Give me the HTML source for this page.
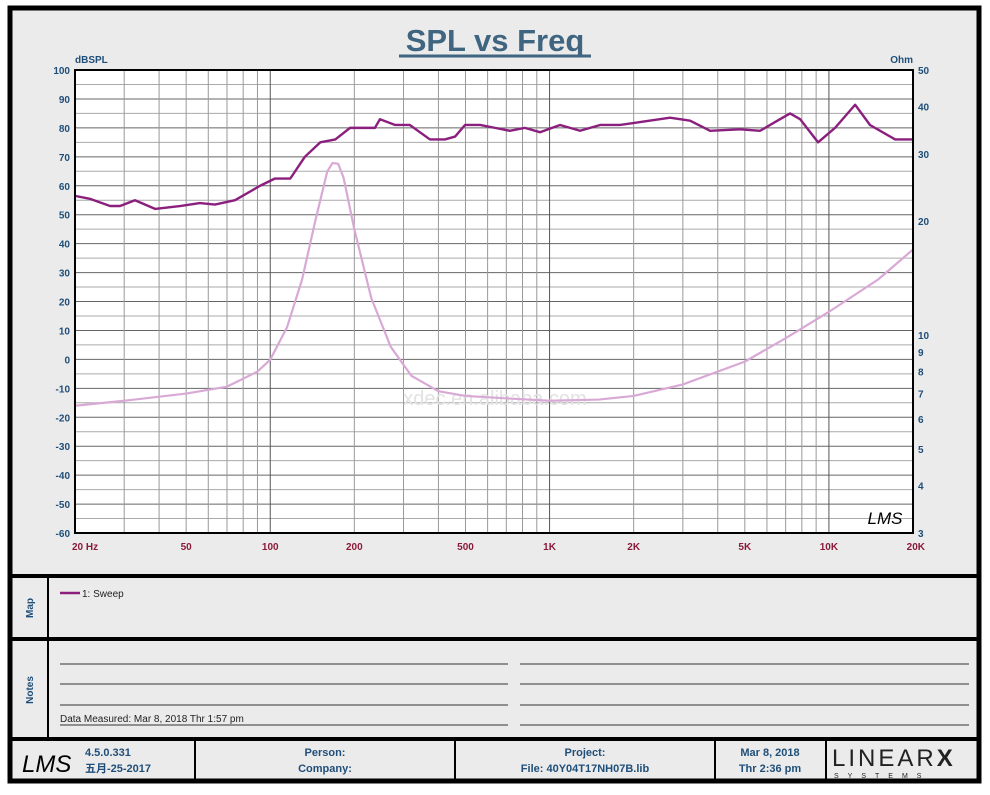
<!DOCTYPE html>
<html><head><meta charset="utf-8"><style>
body{margin:0;background:#fff;width:990px;height:790px;overflow:hidden;font-family:"Liberation Sans",sans-serif}
svg text{font-family:"Liberation Sans","Noto Sans CJK SC",sans-serif}
</style></head><body>
<svg id="s" width="990" height="790" viewBox="0 0 990 790">
<rect x="0" y="0" width="990" height="790" fill="#fff"/>
<rect x="10" y="8" width="969" height="773" fill="#ebebeb" stroke="#000" stroke-width="5"/>
<text x="495" y="51" text-anchor="middle" font-size="31" font-weight="bold" fill="#3f6580">SPL vs Freq</text>
<line x1="399" y1="56" x2="591" y2="56" stroke="#3f6580" stroke-width="3"/>
<text x="75" y="63" font-size="10" font-weight="bold" fill="#1f4e79">dBSPL</text>
<text x="913" y="63" text-anchor="end" font-size="10" font-weight="bold" fill="#1f4e79">Ohm</text>
<rect x="75" y="70" width="838" height="463" fill="#fff"/>
<g id="grid"></g>
<text x="495" y="405" text-anchor="middle" font-size="20" fill="#e2e2e2">xdec.en.alibaba.com</text>
<g id="marks"></g>
<rect x="75" y="70" width="838" height="463" fill="none" stroke="#000" stroke-width="2"/>
<text x="885" y="524" text-anchor="middle" font-size="17" font-style="italic" font-family="Liberation Serif" fill="#000">LMS</text>
<g id="axes"></g>
<line x1="10" y1="576" x2="979" y2="576" stroke="#000" stroke-width="4"/>
<line x1="10" y1="639" x2="979" y2="639" stroke="#000" stroke-width="4"/>
<line x1="10" y1="739" x2="979" y2="739" stroke="#000" stroke-width="4"/>
<line x1="48" y1="576" x2="48" y2="739" stroke="#000" stroke-width="2"/>
<text transform="translate(33,608) rotate(-90)" text-anchor="middle" font-size="10" font-weight="bold" fill="#1f4e79">Map</text>
<text transform="translate(33,690) rotate(-90)" text-anchor="middle" font-size="10" font-weight="bold" fill="#1f4e79">Notes</text>
<g><line x1="60" y1="593" x2="80" y2="593" stroke="#8b1f7e" stroke-width="2.5"/><text x="82" y="597" font-size="10" fill="#222">1: Sweep</text></g>
<g stroke="#333" stroke-width="1">
<line x1="60" y1="664" x2="508" y2="664"/><line x1="520" y1="664" x2="969" y2="664"/>
<line x1="60" y1="684" x2="508" y2="684"/><line x1="520" y1="684" x2="969" y2="684"/>
<line x1="60" y1="705" x2="508" y2="705"/><line x1="520" y1="705" x2="969" y2="705"/>
<line x1="60" y1="725" x2="508" y2="725"/><line x1="520" y1="725" x2="969" y2="725"/>
</g>
<text x="60" y="722" font-size="10" fill="#222">Data Measured: Mar  8, 2018  Thr  1:57 pm</text>
<g stroke="#000" stroke-width="2"><line x1="195" y1="739" x2="195" y2="781"/><line x1="455" y1="739" x2="455" y2="781"/><line x1="715" y1="739" x2="715" y2="781"/><line x1="826" y1="739" x2="826" y2="781"/></g>
<text x="22" y="772" font-size="24" font-style="italic" font-family="Liberation Serif">LMS</text>
<g font-size="11" font-weight="bold" fill="#1f4e79">
<text x="85" y="756">4.5.0.331</text>
<text x="85" y="772">五月-25-2017</text>
<text x="325" y="756" text-anchor="middle">Person:</text>
<text x="325" y="772" text-anchor="middle">Company:</text>
<text x="585" y="756" text-anchor="middle">Project:</text>
<text x="585" y="772" text-anchor="middle">File: 40Y04T17NH07B.lib</text>
<text x="770" y="756" text-anchor="middle">Mar  8, 2018</text>
<text x="770" y="772" text-anchor="middle">Thr  2:36 pm</text>
</g>
<text x="832" y="766" font-size="24" font-family="Liberation Serif" letter-spacing="3" fill="#222">LINEAR<tspan font-weight="bold" font-family="Liberation Sans">X</tspan></text>
<text x="834" y="778" font-size="7" letter-spacing="9" fill="#222">SYSTEMS</text>
</svg>
<script>
const splFreq=[20,22.6,26.7,29,32.8,38.7,47.5,56,63.4,74.8,92,104,118,133,151,171,193,237,247,280,316,373,422,459,498,564,638,721,816,924,1090,1286,1517,1788,2108,2700,3184,3755,4808,5674,6414,7260,7888,9148,10520,12410,14030,17260,20000];
const splDb=[56.5,55.5,53,53,55,52,53,54,53.5,55,60,62.5,62.5,70,75,76,80,80,83,81,81,76,76,77,81,81,80,79,80,78.5,81,79,81,81,82,83.5,82.5,79,79.5,79,82,85,83,75,80,88,81,76,76];
const impFreq=[20,30,50,70,90,100,115,130,145,160,167,175,183,200,230,270,320,400,500,700,1000,1500,2000,3000,5000,7000,10000,15000,20000];
const impOhm=[6.5,6.7,7.0,7.3,8.0,8.6,10.5,14,20,27,28.4,28.3,26,19,12.5,9.3,7.8,7.1,6.9,6.8,6.7,6.75,6.9,7.4,8.5,9.8,11.5,14,16.8];
const dbTicks=[100,90,80,70,60,50,40,30,20,10,0,-10,-20,-30,-40,-50,-60];
const ohmTicks=[50,40,30,20,10,9,8,7,6,5,4,3];
const freqTicks=[20,50,100,200,500,1000,2000,5000,10000,20000];
const freqLabels=["20  Hz","50","100","200","500","1K","2K","5K","10K","20K"];
const X0=75,X1=913,Y0=70,Y1=533,NS='http://www.w3.org/2000/svg';
function xs(f){return X0+(X1-X0)*Math.log10(f/20)/3;}
function yDb(d){return Y1-(Y1-Y0)*(d+60)/160;}
function yOhm(o){return Y1-(Y1-Y0)*Math.log10(o/3)/Math.log10(50/3);}
function mk(t,a,p){const e=document.createElementNS(NS,t);for(const k in a)e.setAttribute(k,a[k]);p.appendChild(e);return e;}
const grid=document.getElementById('grid'),marks=document.getElementById('marks'),axes=document.getElementById('axes');
for(let d=-60;d<=100;d+=5){mk('line',{x1:X0,x2:X1,y1:yDb(d),y2:yDb(d),stroke:d%10?'#aaa':'#666','stroke-width':1},grid);}
for(let dec=10;dec<=10000;dec*=10){for(let m=1;m<=9;m++){const f=dec*m;if(f<20||f>20000)continue;mk('line',{x1:xs(f),x2:xs(f),y1:Y0,y2:Y1,stroke:m==1?'#555':'#999','stroke-width':1},grid);}}
dbTicks.forEach(d=>{const t=mk('text',{x:70,y:yDb(d)+4,'text-anchor':'end','font-size':10,'font-weight':'bold',fill:'#1f4e79'},axes);t.textContent=d;

});
ohmTicks.forEach(o=>{const t=mk('text',{x:918,y:yOhm(o)+4,'font-size':10,'font-weight':'bold',fill:'#1f4e79'},axes);t.textContent=o;

});
freqTicks.forEach((f,i)=>{const t=mk('text',{x:i==0?X0-3:xs(f),y:550,'text-anchor':i==0?'start':(i==freqTicks.length-1?'end':'middle'),'font-size':10,'font-weight':'bold',fill:'#8b1a3a'},axes);t.textContent=freqLabels[i];
if(i==freqTicks.length-1)t.setAttribute('x',X1+12);

});
const imp=mk('polyline',{points:impFreq.map((f,i)=>xs(f)+','+yOhm(impOhm[i])).join(' '),fill:'none',stroke:'#d9a9d6','stroke-width':2.2,'stroke-linejoin':'round'},marks);


const spl=mk('polyline',{points:splFreq.map((f,i)=>xs(f)+','+yDb(splDb[i])).join(' '),fill:'none',stroke:'#8b1f7e','stroke-width':2.4,'stroke-linejoin':'round'},marks);


</script>
</body></html>
